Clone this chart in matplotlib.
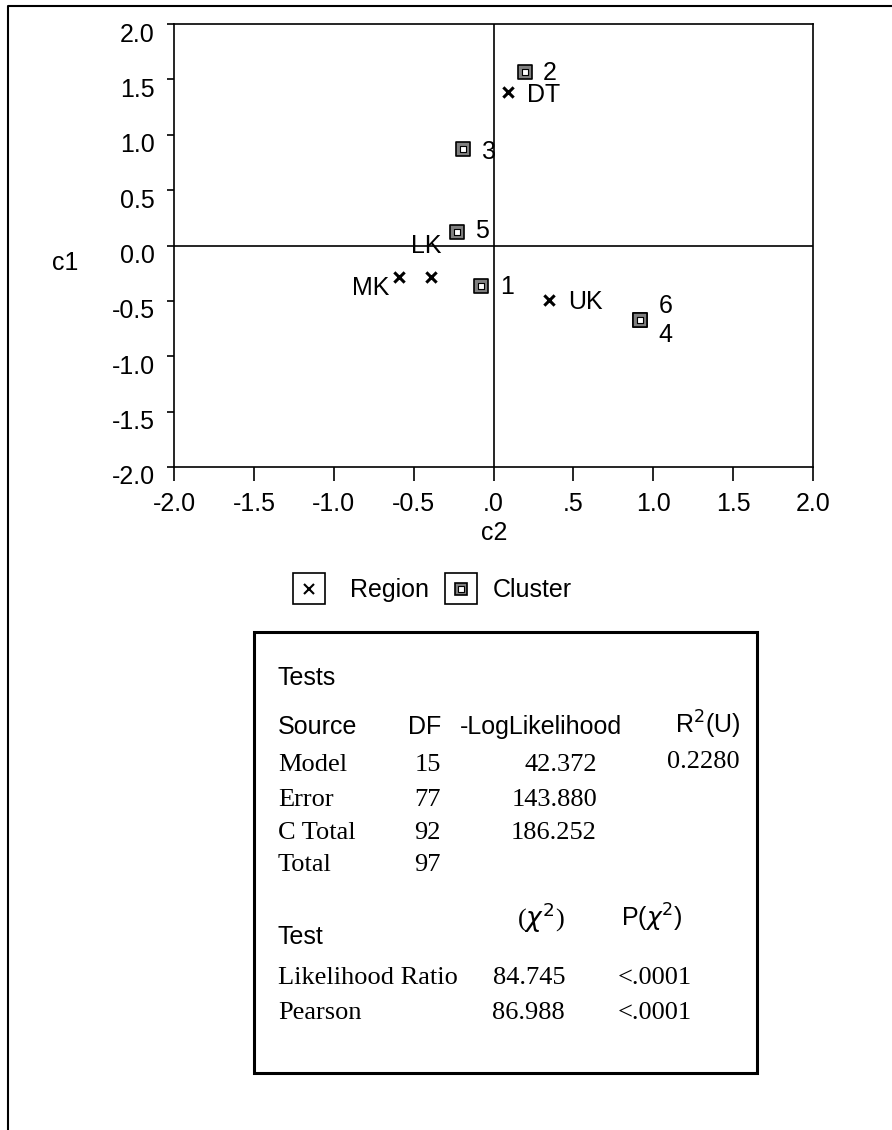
import numpy as np
import matplotlib
matplotlib.use('Agg')
import matplotlib.pyplot as plt
from matplotlib.patches import Rectangle
from matplotlib.lines import Line2D
from matplotlib.transforms import ScaledTranslation

plt.rcParams['font.family'] = ['Liberation Sans', 'DejaVu Sans']

# correspondence analysis coordinates (c2 horizontal, c1 vertical)
region_names = ['DT', 'LK', 'MK', 'UK']
region_c2 = [0.09, -0.39, -0.59, 0.35]
region_c1 = [1.39, -0.28, -0.28, -0.49]

cluster_names = ['1', '2', '3', '4', '5', '6']
cluster_c2 = [-0.08, 0.20, -0.19, 0.92, -0.23, 0.92]
cluster_c1 = [-0.37, 1.57, 0.87, -0.67, 0.12, -0.67]

ticks = [-2.0, -1.5, -1.0, -0.5, 0.0, 0.5, 1.0, 1.5, 2.0]
xtick_labels = ['-2.0', '-1.5', '-1.0', '-0.5', '.0', '.5', '1.0', '1.5', '2.0']
ytick_labels = ['-2.0', '-1.5', '-1.0', '-0.5', '0.0', '0.5', '1.0', '1.5', '2.0']

# Tests table
sources = ['Model', 'Error', 'C Total', 'Total']
dfs = ['15', '77', '92', '97']
loglik = ['42.372', '143.880', '186.252', '']
rsq_u = '0.2280'
test_names = ['Likelihood Ratio', 'Pearson']
chisq = ['84.745', '86.988']
pvals = ['<.0001', '<.0001']

W, H = 892, 1130
fig = plt.figure(figsize=(W/100, H/100), dpi=100)

def fx(x):
    return x / W

def fy(y):
    return 1 - y / H

fs = 18      # sans text
fs_s = 19    # serif table text
serif = ['Liberation Serif', 'DejaVu Serif']

# outer frame (only top and left edges visible)
fig.add_artist(Line2D([fx(8), fx(8), 1.0], [0.0, fy(6), fy(6)], color='black', lw=1.5))

ax = fig.add_axes([fx(174), fy(467), 639/W, 443/H])
ax.set_xlim(-2, 2)
ax.set_ylim(-2, 2)
ax.axhline(0, color='black', lw=1.2)
ax.axvline(0, color='black', lw=1.2)
for s in ax.spines.values():
    s.set_linewidth(1.2)

ax.set_xticks(ticks)
ax.set_xticklabels(xtick_labels)
ax.set_yticks(ticks)
ax.set_yticklabels(ytick_labels)
ax.tick_params(axis='x', direction='out', length=10, width=1.2, labelsize=fs, pad=8)
ax.tick_params(axis='y', direction='out', length=5, width=1.2, labelsize=fs, pad=9)
for lbl in ax.get_yticklabels():
    lbl.set_transform(lbl.get_transform() + ScaledTranslation(0, -0.08, fig.dpi_scale_trans))

# points
ax.scatter(region_c2, region_c1, marker='x', s=55, color='black', linewidths=2.2, zorder=3)
ax.scatter(cluster_c2, cluster_c1, marker='s', s=110, facecolor='#808080', edgecolor='black', linewidths=1.2, zorder=3)
ax.scatter(cluster_c2, cluster_c1, marker='s', s=22, facecolor='white', edgecolor='black', linewidths=0.8, zorder=4)

# label offsets in pixels: (dx, dy, ha)
region_off = {'DT': (19, -3, 'left'), 'LK': (-5, 31, 'center'), 'MK': (-10, -11, 'right'), 'UK': (19, -2, 'left')}
cluster_off = {'1': (19, -1, 'left'), '2': (17, -1, 'left'), '3': (19, -3, 'left'),
               '4': (18, -15, 'left'), '5': (18, 1, 'left'), '6': (18, 14, 'left')}
for n, x, y in zip(region_names, region_c2, region_c1):
    dx, dy, ha = region_off[n]
    ax.annotate(n, (x, y), xytext=(dx, dy), textcoords='offset pixels', ha=ha, va='center', fontsize=fs)
for n, x, y in zip(cluster_names, cluster_c2, cluster_c1):
    dx, dy, ha = cluster_off[n]
    ax.annotate(n, (x, y), xytext=(dx, dy), textcoords='offset pixels', ha=ha, va='center', fontsize=fs)

fig.text(fx(65), fy(263), 'c1', ha='center', va='center', fontsize=fs)
fig.text(fx(494), fy(533), 'c2', ha='center', va='center', fontsize=fs)

# legend
fig.add_artist(Rectangle((fx(293), fy(604)), 32/W, 31/H, fill=False, lw=1.2, transform=fig.transFigure))
fig.add_artist(Line2D([fx(309)], [fy(589)], marker='x', ms=7, mew=1.5, color='black', transform=fig.transFigure))
fig.text(fx(350), fy(590), 'Region', ha='left', va='center', fontsize=fs)
fig.add_artist(Rectangle((fx(445), fy(604)), 32/W, 31/H, fill=False, lw=1.2, transform=fig.transFigure))
fig.add_artist(Line2D([fx(461)], [fy(589)], marker='s', ms=9, mew=1.2, mfc='#808080', mec='black', transform=fig.transFigure))
fig.add_artist(Line2D([fx(461)], [fy(589)], marker='s', ms=4.5, mew=0.8, mfc='white', mec='black', transform=fig.transFigure))
fig.text(fx(493), fy(590), 'Cluster', ha='left', va='center', fontsize=fs)

# tests box
fig.add_artist(Rectangle((fx(254), fy(1073)), 503/W, 441/H, fill=False, lw=2.2, transform=fig.transFigure))
fig.text(fx(278), fy(678), 'Tests', ha='left', va='center', fontsize=fs)
fig.text(fx(441), fy(727), 'DF', ha='right', va='center', fontsize=fs)
fig.text(fx(278), fy(727), 'Source', ha='left', va='center', fontsize=fs)
fig.text(fx(460), fy(727), '-LogLikelihood', ha='left', va='center', fontsize=fs)
fig.text(fx(740), fy(725), r'R$^2$(U)', ha='right', va='center', fontsize=fs)

row_y = [765, 800, 833, 865]
for i, y in enumerate(row_y):
    fig.text(fx(278), fy(y), sources[i], ha='left', va='center', fontsize=fs_s, family=serif)
    fig.text(fx(441), fy(y), dfs[i], ha='right', va='center', fontsize=fs_s, family=serif)
    if loglik[i]:
        fig.text(fx(597), fy(y), loglik[i], ha='right', va='center', fontsize=fs_s, family=serif)
fig.text(fx(740), fy(762), rsq_u, ha='right', va='center', fontsize=fs_s, family=serif)

fig.text(fx(278), fy(937), 'Test', ha='left', va='center', fontsize=fs)
fig.text(fx(541), fy(918), r'($\chi^2$)', ha='center', va='center', fontsize=fs_s, family=serif)
fig.text(fx(652), fy(918), r'P($\chi^2$)', ha='center', va='center', fontsize=fs)
for i, y in enumerate([978, 1013]):
    fig.text(fx(278), fy(y), test_names[i], ha='left', va='center', fontsize=fs_s, family=serif)
    fig.text(fx(565), fy(y), chisq[i], ha='right', va='center', fontsize=fs_s, family=serif)
    fig.text(fx(618), fy(y), pvals[i], ha='left', va='center', fontsize=fs_s, family=serif)

fig.savefig('out.png', dpi=100)
